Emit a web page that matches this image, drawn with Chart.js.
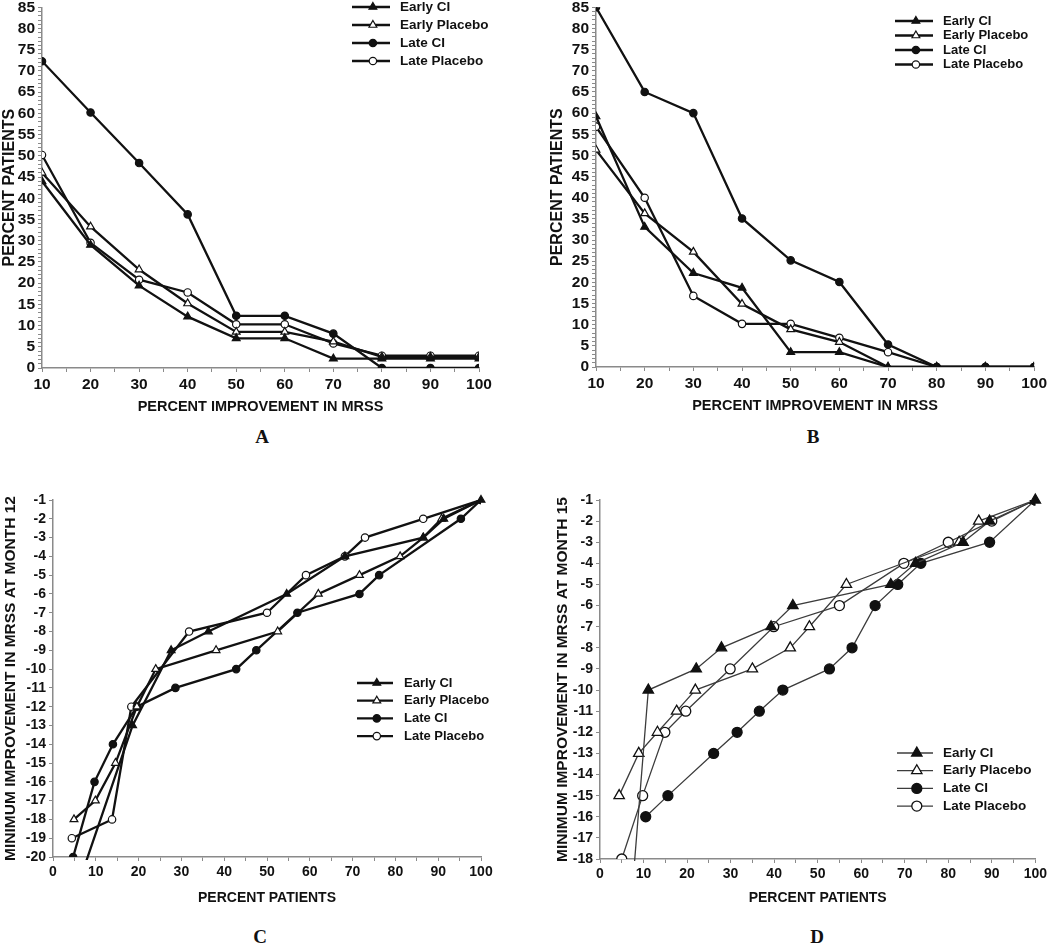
<!DOCTYPE html>
<html><head><meta charset="utf-8">
<script src="https://cdn.jsdelivr.net/npm/chart.js@4.4.1/dist/chart.umd.min.js"></script>
<style>
html,body{margin:0;padding:0;background:#fff;width:1050px;height:947px;overflow:hidden;position:relative}
canvas{position:absolute}
.lbl{position:absolute;font-family:"Liberation Serif","Times New Roman",serif;font-weight:bold;font-size:19px;color:#111;transform:translate(-50%,-50%)}
</style></head><body>
<canvas id="cA" width="525" height="425" style="left:0px;top:-5px"></canvas>
<canvas id="cB" width="502" height="425" style="left:548px;top:-5px"></canvas>
<canvas id="cC" width="525" height="445" style="left:0px;top:470px"></canvas>
<canvas id="cD" width="502" height="445" style="left:548px;top:470px"></canvas>
<div class="lbl" style="left:262px;top:437px">A</div>
<div class="lbl" style="left:813px;top:437px">B</div>
<div class="lbl" style="left:260px;top:937px">C</div>
<div class="lbl" style="left:817px;top:937px">D</div>
<script>
// ---------- DATA ----------
const seriesNames = ['Early CI', 'Early Placebo', 'Late CI', 'Late Placebo'];
const improvementPct = [10, 20, 30, 40, 50, 60, 70, 80, 90, 100];

// Panel A (percent patients)
const A_earlyCI      = [44, 29, 19.4, 12.1, 7, 7, 2.2, 2.2, 2.2, 2.2];
const A_earlyPlacebo = [46, 33.3, 23.2, 15.2, 8.5, 8.5, 6.2, 2.6, 2.6, 2.6];
const A_lateCI       = [72.3, 60.2, 48.3, 36.2, 12.3, 12.3, 8.1, 0, 0, 0];
const A_latePlacebo  = [50.2, 29.5, 20.8, 17.8, 10.3, 10.3, 5.8, 2.9, 2.9, 2.9];

// Panel B (percent patients)
const B_earlyCI      = [59.2, 33.1, 22.2, 18.7, 3.5, 3.5, 0, 0, 0, 0];
const B_earlyPlacebo = [51.3, 36.3, 27.2, 14.9, 8.9, 5.9, 0, 0, 0, 0];
const B_lateCI       = [85, 65, 60, 35.1, 25.2, 20.1, 5.3, 0, 0, 0];
const B_latePlacebo  = [56.8, 40, 16.8, 10.2, 10.2, 6.9, 3.5, 0, 0, 0];

// Panel C (percent patients vs minimum improvement at month 12)
const C_earlyCI_pct      = [6.6, 18.6, 27.6, 36.3, 54.6, 68.2, 86.5, 91.3, 100];
const C_earlyCI_val      = [-21, -13, -9, -8, -6, -4, -3, -2, -1];
const C_earlyPlacebo_pct = [4.9, 9.9, 14.6, 19.6, 24.0, 38.1, 52.5, 62.0, 71.6, 81.1, 86.5, 90.8, 100];
const C_earlyPlacebo_val = [-18, -17, -15, -12, -10, -9, -8, -6, -5, -4, -3, -2, -1];
const C_lateCI_pct       = [4.7, 9.7, 14.0, 19.6, 28.6, 42.8, 47.5, 57.1, 71.6, 76.2, 95.3, 100];
const C_lateCI_val       = [-20, -16, -14, -12, -11, -10, -9, -7, -6, -5, -2, -1];
const C_latePlacebo_pct  = [4.4, 13.8, 18.3, 31.8, 50.0, 59.1, 68.2, 72.9, 86.5, 100];
const C_latePlacebo_val  = [-19, -18, -12, -8, -7, -5, -4, -3, -2, -1];

// Panel D (percent patients vs minimum improvement at month 15)
const D_earlyCI_pct      = [7.6, 11.1, 22.1, 27.9, 39.3, 44.3, 66.8, 72.5, 83.4, 89.5, 100];
const D_earlyCI_val      = [-19, -10, -9, -8, -7, -6, -5, -4, -3, -2, -1];
const D_earlyPlacebo_pct = [4.4, 8.9, 13.2, 17.6, 21.9, 35.0, 43.7, 48.1, 56.6, 82.5, 87.0, 100];
const D_earlyPlacebo_val = [-15, -13, -12, -11, -10, -9, -8, -7, -5, -3, -2, -1];
const D_lateCI_pct       = [10.5, 15.6, 26.1, 31.5, 36.6, 42.0, 52.7, 57.9, 63.2, 68.4, 73.7, 89.5, 100];
const D_lateCI_val       = [-16, -15, -13, -12, -11, -10, -9, -8, -6, -5, -4, -3, -1];
const D_latePlacebo_pct  = [5.0, 9.8, 14.9, 19.7, 29.9, 39.9, 55.0, 69.8, 80.0, 90.0, 100];
const D_latePlacebo_val  = [-18, -15, -12, -11, -9, -7, -6, -4, -3, -2, -1];

// ---------- HELPERS ----------
const SANS = '"Liberation Sans", Arial, sans-serif';
const INK = '#111';
const AXIS = '#8a8a8a';

function pairs(xs, ys) { return xs.map((x, i) => ({x: x, y: ys[i]})); }

function styleFor(i, thin) {
  const filled = (i === 0 || i === 2);
  const tri = (i === 0 || i === 1);
  const lineCol = thin ? '#3c3c3c' : INK;
  return {
    label: seriesNames[i],
    borderColor: lineCol,
    borderWidth: thin ? 1.3 : 2.3,
    pointStyle: tri ? 'triangle' : 'circle',
    pointRadius: thin ? (tri ? 6 : 5) : (tri ? 4.5 : 3.7),
    pointBorderWidth: thin ? 1.3 : 1.2,
    pointBorderColor: INK,
    pointBackgroundColor: filled ? INK : '#fff',
    pointHoverRadius: 0,
    tension: 0,
    fill: false
  };
}

const lineLegend = {
  id: 'lineLegend',
  afterDraw(chart, args, o) {
    const ctx = chart.ctx;
    ctx.save();
    chart.data.datasets.forEach((ds, i) => {
      const y = o.y + i * o.rowH;
      ctx.strokeStyle = ds.borderColor; ctx.lineWidth = ds.borderWidth;
      ctx.beginPath(); ctx.moveTo(o.x, y); ctx.lineTo(o.x + o.len, y); ctx.stroke();
      ctx.fillStyle = ds.pointBackgroundColor; ctx.strokeStyle = ds.pointBorderColor; ctx.lineWidth = ds.pointBorderWidth;
      Chart.helpers.drawPoint(ctx, {pointStyle: ds.pointStyle, radius: ds.pointRadius, borderWidth: ds.pointBorderWidth, rotation: 0}, o.x + o.len * 0.55, y);
      ctx.fillStyle = INK; ctx.font = o.font; ctx.textBaseline = 'middle'; ctx.textAlign = 'left';
      ctx.fillText(ds.label, o.x + o.len + o.gap, y);
    });
    ctx.restore();
  }
};

function makeChart(id, datasets, p) {
  return new Chart(document.getElementById(id), {
    type: 'line',
    data: {datasets: datasets},
    options: {
      responsive: false, animation: false, devicePixelRatio: 1,
      layout: {padding: p.padding},
      plugins: {legend: {display: false}, tooltip: {enabled: false}, lineLegend: p.legend},
      scales: {
        x: {
          type: 'linear', min: p.xMin, max: p.xMax,
          ticks: {stepSize: 5, autoSkip: false, maxRotation: 0, padding: 3, color: INK,
                  font: {family: SANS, weight: 'bold', size: p.tickSize},
                  callback: v => (v % 10 === 0 ? String(v) : '')},
          grid: {drawOnChartArea: false, tickLength: 4, color: AXIS, lineWidth: 1},
          border: {color: AXIS, width: 1.5},
          title: {display: true, text: p.xTitle, color: INK, font: {family: SANS, weight: 'bold', size: p.xTitleSize}, padding: {top: 0, bottom: p.xTitlePad}},
          afterFit: s => { s.height = p.xHeight; }
        },
        y: {
          type: 'linear', min: p.yMin, max: p.yMax,
          ticks: {stepSize: 1, autoSkip: false, padding: 3, color: INK,
                  font: {family: SANS, weight: 'bold', size: p.tickSize},
                  callback: v => (v % p.yLabelEvery === 0 ? String(v) : '')},
          grid: {drawOnChartArea: false, tickLength: 4, color: AXIS, lineWidth: 1},
          border: {color: AXIS, width: 1.5},
          title: {display: true, text: p.yTitle, color: INK, font: {family: SANS, weight: 'bold', size: p.yTitleSize}, padding: {top: p.yTitlePad, bottom: 0}},
          afterFit: s => { s.width = p.yWidth; }
        }
      }
    },
    plugins: [lineLegend]
  });
}

function abSets(a, b, c, d) {
  return [a, b, c, d].map((vals, i) => Object.assign(styleFor(i, false), {data: pairs(improvementPct, vals)}));
}

// ---------- PANEL A ----------
makeChart('cA', abSets(A_earlyCI, A_earlyPlacebo, A_lateCI, A_latePlacebo), {
  padding: {top: 12, left: 0, right: 46, bottom: 0},
  xMin: 10, xMax: 100, yMin: 0, yMax: 85, yLabelEvery: 5,
  tickSize: 15.5, xTitle: 'PERCENT IMPROVEMENT IN MRSS', xTitleSize: 14.5, xTitlePad: 4,
  yTitle: 'PERCENT PATIENTS', yTitleSize: 16, yTitlePad: 0,
  xHeight: 52, yWidth: 42,
  legend: {x: 352, y: 12, rowH: 18, len: 38, gap: 10, font: 'bold 13.5px ' + SANS}
});

// ---------- PANEL B ----------
makeChart('cB', abSets(B_earlyCI, B_earlyPlacebo, B_lateCI, B_latePlacebo), {
  padding: {top: 10, left: 0, right: 14, bottom: 0},
  xMin: 10, xMax: 100, yMin: 0, yMax: 85, yLabelEvery: 5,
  tickSize: 15.5, xTitle: 'PERCENT IMPROVEMENT IN MRSS', xTitleSize: 14.5, xTitlePad: 5,
  yTitle: 'PERCENT PATIENTS', yTitleSize: 16, yTitlePad: 0,
  xHeight: 53, yWidth: 48,
  legend: {x: 347, y: 26, rowH: 14.5, len: 38, gap: 10, font: 'bold 13px ' + SANS}
});

// ---------- PANEL C ----------
const cSets = [
  Object.assign(styleFor(0, false), {data: pairs(C_earlyCI_pct, C_earlyCI_val), clip: {left: 8, top: 8, right: 8, bottom: 3}}),
  Object.assign(styleFor(1, false), {data: pairs(C_earlyPlacebo_pct, C_earlyPlacebo_val)}),
  Object.assign(styleFor(2, false), {data: pairs(C_lateCI_pct, C_lateCI_val)}),
  Object.assign(styleFor(3, false), {data: pairs(C_latePlacebo_pct, C_latePlacebo_val)})
];
makeChart('cC', cSets, {
  padding: {top: 30, left: 0, right: 44, bottom: 0},
  xMin: 0, xMax: 100, yMin: -20, yMax: -1, yLabelEvery: 1,
  tickSize: 14, xTitle: 'PERCENT PATIENTS', xTitleSize: 14, xTitlePad: 8,
  yTitle: 'MINIMUM IMPROVEMENT IN MRSS AT MONTH 12', yTitleSize: 15.5, yTitlePad: 1,
  xHeight: 58, yWidth: 53,
  legend: {x: 357, y: 213, rowH: 17.7, len: 36, gap: 11, font: 'bold 13px ' + SANS}
});

// ---------- PANEL D ----------
const dSets = [
  Object.assign(styleFor(0, true), {data: pairs(D_earlyCI_pct, D_earlyCI_val), clip: {left: 8, top: 8, right: 8, bottom: 2}}),
  Object.assign(styleFor(1, true), {data: pairs(D_earlyPlacebo_pct, D_earlyPlacebo_val)}),
  Object.assign(styleFor(2, true), {data: pairs(D_lateCI_pct, D_lateCI_val)}),
  Object.assign(styleFor(3, true), {data: pairs(D_latePlacebo_pct, D_latePlacebo_val)})
];
makeChart('cD', dSets, {
  padding: {top: 30, left: 0, right: 13, bottom: 0},
  xMin: 0, xMax: 100, yMin: -18, yMax: -1, yLabelEvery: 1,
  tickSize: 14, xTitle: 'PERCENT PATIENTS', xTitleSize: 14, xTitlePad: 8,
  yTitle: 'MINIMUM IMPROVEMENT IN MRSS AT MONTH 15', yTitleSize: 15.5, yTitlePad: 5,
  xHeight: 56, yWidth: 52,
  legend: {x: 349, y: 283, rowH: 17.7, len: 36, gap: 10, font: 'bold 13.5px ' + SANS}
});
</script>
</body></html>
